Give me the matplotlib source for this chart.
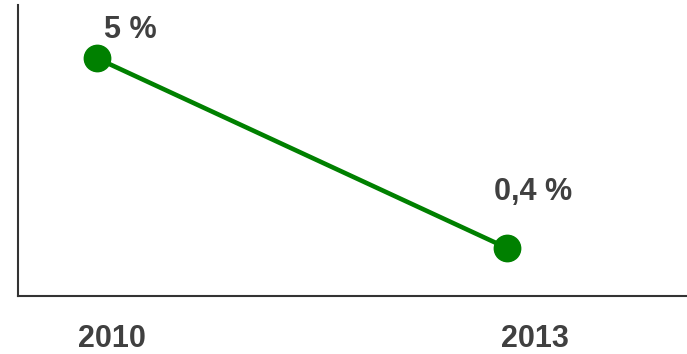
import matplotlib.pyplot as plt
import matplotlib.transforms as mtransforms

# Share figures
years = ['2010', '2013']
values = [5, 0.4]
labels = ['5 %', '0,4 %']

# label offsets (points) relative to each marker
label_offsets = [(24, 20), (19, 40)]
tick_shifts = [11, 20]

plt.rcParams['font.family'] = ['Liberation Sans', 'DejaVu Sans']

fig = plt.figure(figsize=(6.87, 3.54), dpi=100)
ax = fig.add_axes([18 / 687, 58 / 354, 1 - 18 / 687, (296 - 5) / 354])

x = list(range(len(years)))
ax.plot(x, values, color='#008000', linewidth=3.3, marker='o', markersize=19,
        solid_capstyle='round')

for xi, v, lab, off in zip(x, values, labels, label_offsets):
    ax.annotate(lab, xy=(xi, v), xytext=off, textcoords='offset points',
                ha='center', va='center', fontsize=22, fontweight='bold',
                color='#404040')

ax.set_xlim(-0.192, 1.439)
ax.set_ylim(-0.764, 6.29)

ax.set_xticks(x)
ax.set_xticklabels(years, fontsize=22, fontweight='bold', color='#404040')
ax.tick_params(axis='x', length=0, pad=20)
for lbl, dx in zip(ax.get_xticklabels(), tick_shifts):
    lbl.set_transform(lbl.get_transform() +
                      mtransforms.ScaledTranslation(dx / 72, 0, fig.dpi_scale_trans))
ax.set_yticks([])

for side in ['top', 'right']:
    ax.spines[side].set_visible(False)
for side in ['left', 'bottom']:
    ax.spines[side].set_color('#333333')
    ax.spines[side].set_linewidth(1.5)

fig.savefig('out.png', dpi=100)
